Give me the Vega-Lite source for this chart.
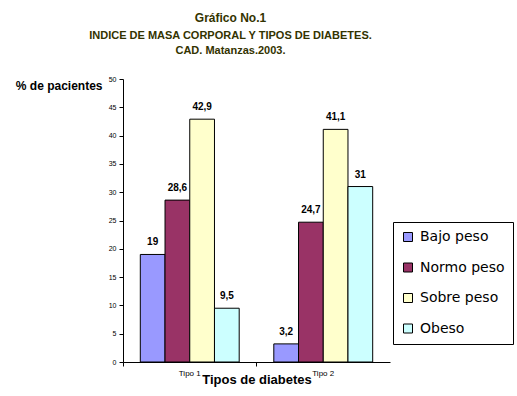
{
  "$schema": "https://vega.github.io/schema/vega-lite/v6.json",
  "width": 267,
  "height": 283,
  "autosize": {"type": "none"},
  "padding": {"left": 123, "top": 79, "right": 127, "bottom": 34},
  "background": "white",
  "title": {
    "text": "Gráfico No.1",
    "subtitle": ["INDICE DE MASA CORPORAL Y TIPOS DE DIABETES.", "CAD. Matanzas.2003."],
    "anchor": "middle",
    "frame": "group",
    "dx": -26,
    "offset": 18,
    "font": "Liberation Sans",
    "fontSize": 12,
    "fontWeight": "bold",
    "color": "#333300",
    "subtitleFont": "Liberation Sans",
    "subtitleFontSize": 11,
    "subtitleFontWeight": "bold",
    "subtitleColor": "#333300",
    "subtitleLineHeight": 15,
    "subtitlePadding": 5
  },
  "config": {
    "view": {"stroke": null},
    "font": "Liberation Sans"
  },
  "data": {
    "values": [
      {"tipo": "Tipo 1", "imc": "Bajo peso", "pct": 19, "lbl": "19"},
      {"tipo": "Tipo 1", "imc": "Normo peso", "pct": 28.6, "lbl": "28,6"},
      {"tipo": "Tipo 1", "imc": "Sobre peso", "pct": 42.9, "lbl": "42,9"},
      {"tipo": "Tipo 1", "imc": "Obeso", "pct": 9.5, "lbl": "9,5"},
      {"tipo": "Tipo 2", "imc": "Bajo peso", "pct": 3.2, "lbl": "3,2"},
      {"tipo": "Tipo 2", "imc": "Normo peso", "pct": 24.7, "lbl": "24,7"},
      {"tipo": "Tipo 2", "imc": "Sobre peso", "pct": 41.1, "lbl": "41,1"},
      {"tipo": "Tipo 2", "imc": "Obeso", "pct": 31, "lbl": "31"}
    ]
  },
  "encoding": {
    "x": {
      "field": "tipo",
      "type": "nominal",
      "scale": {"paddingInner": 0, "paddingOuter": 0},
      "axis": {
        "title": "Tipos de diabetes",
        "titleFont": "Liberation Sans",
        "titleFontSize": 13,
        "titleFontWeight": "bold",
        "titleColor": "black",
        "titleY": 21,
        "titleBaseline": "alphabetic",
        "labelAngle": 0,
        "labelFontSize": 8,
        "labelColor": "black",
        "labelPadding": 3,
        "bandPosition": 0,
        "tickSize": 4,
        "tickColor": "black",
        "domainColor": "black",
        "grid": false
      }
    },
    "xOffset": {
      "field": "imc",
      "type": "nominal",
      "sort": ["Bajo peso", "Normo peso", "Sobre peso", "Obeso"],
      "scale": {"paddingInner": 0, "paddingOuter": 0.7}
    },
    "y": {
      "field": "pct",
      "type": "quantitative",
      "scale": {"domain": [0, 50], "nice": false},
      "axis": {
        "values": [0, 5, 10, 15, 20, 25, 30, 35, 40, 45, 50],
        "title": "% de pacientes",
        "titleAngle": 0,
        "titleAlign": "right",
        "titleBaseline": "middle",
        "titleX": -21,
        "titleY": 6,
        "titleFont": "Liberation Sans",
        "titleFontSize": 12,
        "titleFontWeight": "bold",
        "titleColor": "black",
        "labelFontSize": 7,
        "labelColor": "black",
        "labelPadding": 3,
        "tickSize": 4,
        "tickColor": "black",
        "domainColor": "black",
        "grid": false
      }
    }
  },
  "layer": [
    {
      "mark": {"type": "bar", "stroke": "black", "strokeWidth": 1},
      "encoding": {
        "color": {
          "field": "imc",
          "type": "nominal",
          "sort": ["Bajo peso", "Normo peso", "Sobre peso", "Obeso"],
          "scale": {
            "domain": ["Bajo peso", "Normo peso", "Sobre peso", "Obeso"],
            "range": ["#9999FF", "#993366", "#FFFFCC", "#CCFFFF"]
          },
          "legend": {
            "title": null,
            "orient": "none",
            "legendX": 270,
            "legendY": 143,
            "strokeColor": "black",
            "fillColor": "white",
            "padding": 8,
            "symbolType": "square",
            "symbolSize": 81,
            "symbolStrokeColor": "black",
            "symbolStrokeWidth": 1,
            "symbolOpacity": 1,
            "labelFont": "DejaVu Sans",
            "labelFontSize": 14,
            "labelColor": "black",
            "labelOffset": 5,
            "rowPadding": 16.5
          }
        }
      }
    },
    {
      "mark": {"type": "text", "baseline": "alphabetic", "dy": -9, "fontWeight": "bold", "fontSize": 10, "font": "Liberation Sans", "color": "black"},
      "encoding": {
        "text": {"field": "lbl"}
      }
    }
  ]
}
